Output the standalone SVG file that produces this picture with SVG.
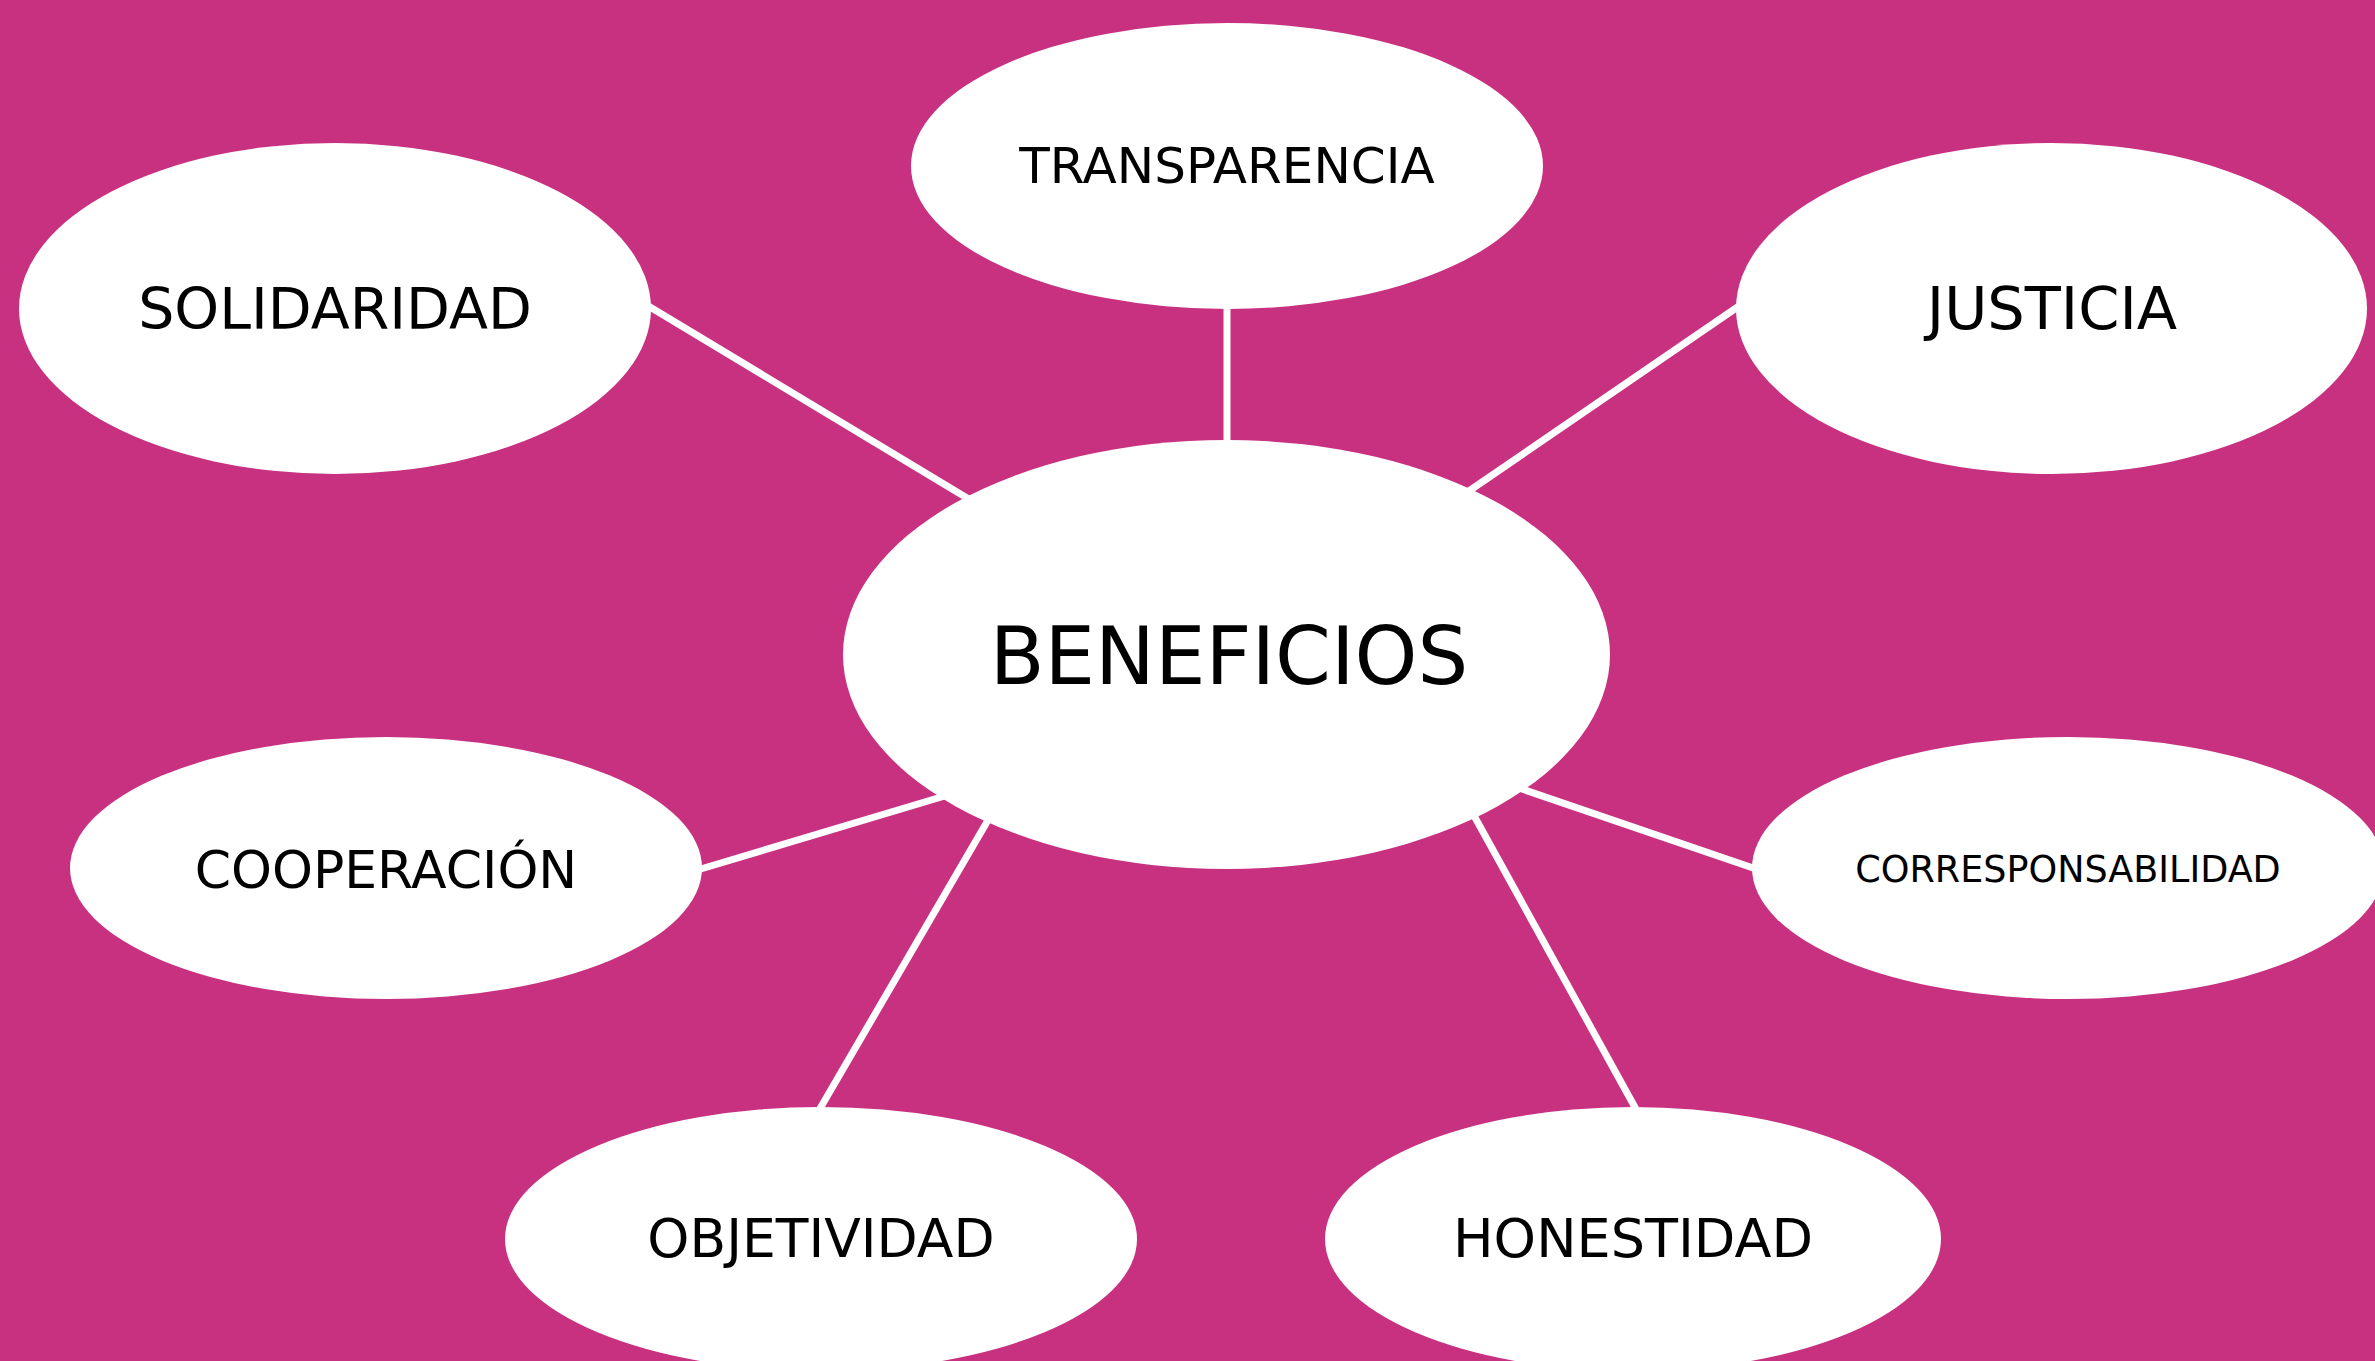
<svg xmlns="http://www.w3.org/2000/svg" width="2375" height="1361" viewBox="0 0 2375 1361">
  <style>
    .bg { fill: #C83180; }
    .node ellipse { fill: #ffffff; }
    .node text { font-family: "DejaVu Sans", "Liberation Sans", sans-serif; fill: #000000; text-anchor: middle; }
    .conn line { stroke: #ffffff; stroke-width: 7; }
  </style>
  <rect class="bg" x="0" y="0" width="2375" height="1361"/>
  <g id="connectors" class="conn">
    <line x1="1227" y1="300" x2="1227" y2="450"/>
    <line x1="645" y1="304" x2="972" y2="501"/>
    <line x1="1742" y1="304" x2="1466" y2="493"/>
    <line x1="694" y1="871" x2="948" y2="795"/>
    <line x1="1759" y1="870" x2="1516" y2="787"/>
    <line x1="991" y1="815" x2="818" y2="1112"/>
    <line x1="1472" y1="812" x2="1637" y2="1111"/>
  </g>
  <g id="node-transparencia" class="node">
    <ellipse cx="1227" cy="166" rx="316" ry="143"/>
    <text x="1227" y="183" font-size="50">TRANSPARENCIA</text>
  </g>
  <g id="node-solidaridad" class="node">
    <ellipse cx="335" cy="308.5" rx="316" ry="165.5"/>
    <text x="335" y="329" font-size="57">SOLIDARIDAD</text>
  </g>
  <g id="node-justicia" class="node">
    <ellipse cx="2051.5" cy="308.5" rx="315.5" ry="165.5"/>
    <text x="2052" y="329" font-size="59">JUSTICIA</text>
  </g>
  <g id="node-beneficios" class="node">
    <ellipse cx="1226.5" cy="654.5" rx="383.5" ry="214.5"/>
    <text x="1229" y="684" font-size="80">BENEFICIOS</text>
  </g>
  <g id="node-cooperacion" class="node">
    <ellipse cx="386" cy="868" rx="316" ry="131"/>
    <text x="386" y="888" font-size="52">COOPERACIÓN</text>
  </g>
  <g id="node-corresponsabilidad" class="node">
    <ellipse cx="2068" cy="868" rx="316" ry="131"/>
    <text x="2068" y="882" font-size="36.5">CORRESPONSABILIDAD</text>
  </g>
  <g id="node-objetividad" class="node">
    <ellipse cx="821" cy="1239" rx="316" ry="132"/>
    <text x="821" y="1257" font-size="53.5">OBJETIVIDAD</text>
  </g>
  <g id="node-honestidad" class="node">
    <ellipse cx="1633" cy="1239" rx="308" ry="132"/>
    <text x="1633" y="1257" font-size="54">HONESTIDAD</text>
  </g>
</svg>
